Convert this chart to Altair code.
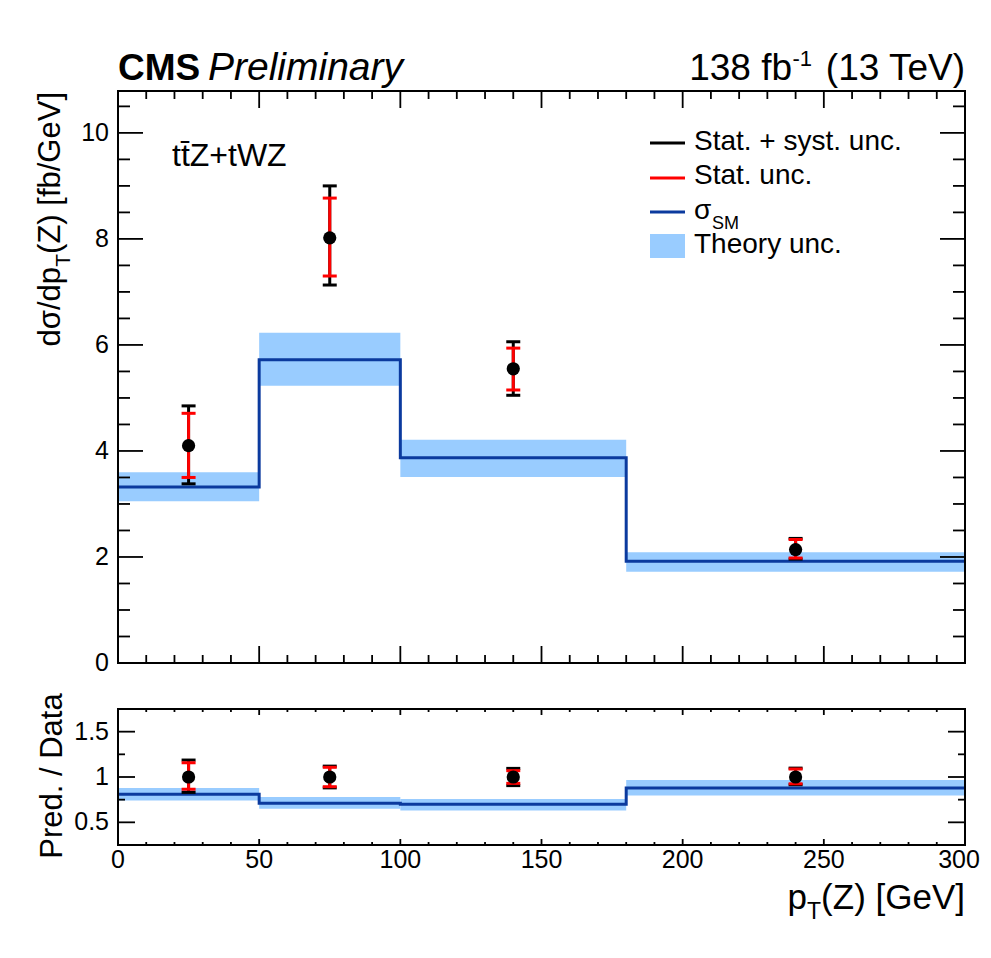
import altair as alt
import pandas as pd

# ---------------- data ----------------
BIN_LO = [0, 50, 100, 180]
BIN_HI = [50, 100, 180, 300]
BIN_CENTER = [25, 75, 140, 240]

DATA = [4.10, 8.02, 5.55, 2.14]
TOT_UP = [4.85, 9.00, 6.06, 2.35]
TOT_DN = [3.38, 7.13, 5.05, 1.96]
STAT_UP = [4.71, 8.77, 5.94, 2.33]
STAT_DN = [3.50, 7.30, 5.15, 1.98]
SM = [3.32, 5.72, 3.87, 1.92]
SM_UP = [3.60, 6.23, 4.21, 2.09]
SM_DN = [3.05, 5.23, 3.51, 1.72]

R_DATA = [1.0, 1.0, 1.0, 1.0]
R_TOT_UP = [1.187, 1.12, 1.095, 1.098]
R_TOT_DN = [0.83, 0.88, 0.905, 0.915]
R_STAT_UP = [1.157, 1.107, 1.07, 1.088]
R_STAT_DN = [0.865, 0.893, 0.93, 0.925]
R_SM = [0.81, 0.71, 0.70, 0.88]
R_SM_UP = [0.88, 0.78, 0.758, 0.967]
R_SM_DN = [0.74, 0.65, 0.63, 0.795]

X_MAJOR = [0, 50, 100, 150, 200, 250, 300]
X_MAJOR_LABELS = ["0", "50", "100", "150", "200", "250", "300"]
X_MINOR = [10, 20, 30, 40, 60, 70, 80, 90, 110, 120, 130, 140, 160, 170, 180, 190,
           210, 220, 230, 240, 260, 270, 280, 290]
Y_MAJOR = [0, 2, 4, 6, 8, 10]
Y_MAJOR_LABELS = ["0", "2", "4", "6", "8", "10"]
Y_MINOR = [0.5, 1, 1.5, 2.5, 3, 3.5, 4.5, 5, 5.5, 6.5, 7, 7.5, 8.5, 9, 9.5, 10.5]
R_MAJOR = [0.5, 1.0, 1.5]
R_MAJOR_LABELS = ["0.5", "1", "1.5"]
R_MINOR = [0.75, 1.25]

X_DOMAIN = [0, 300]
Y_DOMAIN = [0, 10.79]
R_DOMAIN = [0.25, 1.75]

LEGEND_LABELS = ["Stat. + syst. unc.", "Stat. unc.", "\u03c3", "SM", "Theory unc."]
PROCESS_LABEL = "tt\u0304Z+tWZ"

# ---------------- layout / style ----------------
W, H = 847, 754
MH = 572            # main panel height
RTOP = 618          # ratio panel top
FONT = "Liberation Sans"
BAND = "#99ccff"
BLUE = "#0b3a9e"
RED = "#ff0000"
LAB = 25

XS = alt.Scale(domain=X_DOMAIN, nice=False, zero=False)
YS = alt.Scale(domain=Y_DOMAIN, range=[MH, 0], nice=False, zero=False)
RS = alt.Scale(domain=R_DOMAIN, range=[H, RTOP], nice=False, zero=False)


def X(f):
    return alt.X(f"{f}:Q", scale=XS, axis=None)


def Yf(f, s):
    return alt.Y(f"{f}:Q", scale=s, axis=None)


def one(text):
    return pd.DataFrame({"t": [text]})


def txt(text, x, y, size, align="left", baseline="alphabetic", angle=0, style=None, weight=None):
    kw = dict(font=FONT, fontSize=size, align=align, baseline=baseline, color="black")
    if angle:
        kw["angle"] = angle
    if style:
        kw["fontStyle"] = style
    if weight:
        kw["fontWeight"] = weight
    return alt.Chart(one(text)).mark_text(**kw).encode(
        x=alt.value(x), y=alt.value(y), text="t:N")


def panel(lo, hi, c, v, tu, td, su, sd, sm, smu, smd, s, xmaj_len, xmin_len,
          ymaj, ymin, ymaj_labels, top_px, bot_px, ydomain, ylen_maj, ylen_min):
    bins = pd.DataFrame({"lo": lo, "hi": hi, "up": smu, "dn": smd})
    step = pd.DataFrame({"x": lo + [hi[-1]], "y": sm + [sm[-1]]})
    err = pd.DataFrame({"x": c, "v": v, "tu": tu, "td": td, "su": su, "sd": sd})
    layers = []
    layers.append(alt.Chart(bins).mark_rect(color=BAND, opacity=1).encode(
        x=X("lo"), x2="hi", y=Yf("dn", s), y2="up"))
    layers.append(alt.Chart(step).mark_line(interpolate="step-after", color=BLUE,
                                            strokeWidth=3).encode(x=X("x"), y=Yf("y", s)))
    # ticks along x (bottom and top)
    for vals, ln in ((X_MAJOR, xmaj_len), (X_MINOR, xmin_len)):
        df = pd.DataFrame({"v": vals})
        layers.append(alt.Chart(df).mark_rule(color="black", strokeWidth=1.8).encode(
            x=X("v"), y=alt.value(bot_px), y2=alt.value(bot_px - ln)))
        layers.append(alt.Chart(df).mark_rule(color="black", strokeWidth=1.8).encode(
            x=X("v"), y=alt.value(top_px), y2=alt.value(top_px + ln)))
    # ticks along y (left and right)
    for vals, ln in ((ymaj, ylen_maj), (ymin, ylen_min)):
        df = pd.DataFrame({"v": vals})
        layers.append(alt.Chart(df).mark_rule(color="black", strokeWidth=1.8).encode(
            y=Yf("v", s), x=alt.value(0), x2=alt.value(ln)))
        layers.append(alt.Chart(df).mark_rule(color="black", strokeWidth=1.8).encode(
            y=Yf("v", s), x=alt.value(W), x2=alt.value(W - ln)))
    # frame
    fr = pd.DataFrame({"x0": [X_DOMAIN[0]], "x1": [X_DOMAIN[1]],
                       "y0": [ydomain[0]], "y1": [ydomain[1]]})
    layers.append(alt.Chart(fr).mark_rect(fillOpacity=0, stroke="black", strokeWidth=2).encode(
        x=X("x0"), x2="x1", y=Yf("y0", s), y2="y1"))
    # y tick labels
    lab = pd.DataFrame({"v": ymaj, "lab": ymaj_labels})
    layers.append(alt.Chart(lab).mark_text(font=FONT, fontSize=LAB, align="right",
                                           baseline="middle", color="black").encode(
        y=Yf("v", s), x=alt.value(-9), text="lab:N"))
    # error bars and points
    layers.append(alt.Chart(err).mark_rule(color="black", strokeWidth=3).encode(
        x=X("x"), y=Yf("td", s), y2="tu"))
    for f in ("tu", "td"):
        layers.append(alt.Chart(err).mark_tick(orient="horizontal", size=14, thickness=3,
                                               color="black", opacity=1).encode(
            x=X("x"), y=Yf(f, s)))
    layers.append(alt.Chart(err).mark_rule(color=RED, strokeWidth=3).encode(
        x=X("x"), y=Yf("sd", s), y2="su"))
    for f in ("su", "sd"):
        layers.append(alt.Chart(err).mark_tick(orient="horizontal", size=14, thickness=3,
                                               color=RED, opacity=1).encode(
            x=X("x"), y=Yf(f, s)))
    layers.append(alt.Chart(err).mark_circle(size=175, color="black", opacity=1).encode(
        x=X("x"), y=Yf("v", s)))
    return layers


main_layers = panel(BIN_LO, BIN_HI, BIN_CENTER, DATA, TOT_UP, TOT_DN, STAT_UP, STAT_DN,
                    SM, SM_UP, SM_DN, YS, 17, 8, Y_MAJOR, Y_MINOR, Y_MAJOR_LABELS,
                    0, MH, Y_DOMAIN, 25, 12)
ratio_layers = panel(BIN_LO, BIN_HI, BIN_CENTER, R_DATA, R_TOT_UP, R_TOT_DN, R_STAT_UP,
                     R_STAT_DN, R_SM, R_SM_UP, R_SM_DN, RS, 6, 3, R_MAJOR, R_MINOR,
                     R_MAJOR_LABELS, RTOP, H, R_DOMAIN, 17, 7)

# x tick labels below ratio panel (last one nudged so it stays on the canvas)
xl = pd.DataFrame({"v": X_MAJOR[:-1], "lab": X_MAJOR_LABELS[:-1]})
main_layers.append(alt.Chart(xl).mark_text(font=FONT, fontSize=LAB, align="center",
                                           baseline="middle", color="black").encode(
    x=X("v"), y=alt.value(769), text="lab:N"))
xl_last = pd.DataFrame({"v": X_MAJOR[-1:], "lab": X_MAJOR_LABELS[-1:]})
main_layers.append(alt.Chart(xl_last).mark_text(font=FONT, fontSize=LAB, align="center",
                                                baseline="middle", color="black",
                                                dx=-6).encode(
    x=X("v"), y=alt.value(769), text="lab:N"))

# header
main_layers += [
    txt("CMS", 0, -11, 37, weight="bold"),
    txt("Preliminary", 90, -11, 39, style="italic"),
    txt("(13 TeV)", W, -11, 37, align="right"),
    txt("-1", 694, -25, 22, align="right"),
    txt("138 fb", 674, -11, 37, align="right"),
]

# axis titles
main_layers += [
    txt("(Z) [GeV]", W, 818, 35, align="right"),
    txt("T", 703, 828, 23, align="right"),
    txt("p", 689, 818, 35, align="right"),
    txt("(Z) [fb/GeV]", -58, 1, 31, align="right", angle=270),
    txt("T", -48, 163, 21, align="right", angle=270),
    txt("d\u03c3/dp", -58, 176, 31, align="right", angle=270),
    txt("Pred. / Data", -56, 685, 31, align="center", angle=270),
]

# process label
main_layers.append(txt(PROCESS_LABEL, 54, 75, 32))

# legend
LX0, LX1, TX = 532, 567, 576
for ypx, col in ((52, "black"), (87, RED), (121, BLUE)):
    main_layers.append(alt.Chart(one("l")).mark_rule(color=col, strokeWidth=3).encode(
        x=alt.value(LX0), x2=alt.value(LX1), y=alt.value(ypx)))
main_layers.append(alt.Chart(one("b")).mark_rect(color=BAND, opacity=1).encode(
    x=alt.value(LX0), x2=alt.value(LX1), y=alt.value(143), y2=alt.value(167)))
main_layers += [
    txt(LEGEND_LABELS[0], TX, 59, 28),
    txt(LEGEND_LABELS[1], TX, 93, 28),
    txt(LEGEND_LABELS[2], TX, 128, 28),
    txt(LEGEND_LABELS[3], TX + 18, 138, 18),
    txt(LEGEND_LABELS[4], TX, 162, 28),
]

chart = alt.layer(alt.layer(*main_layers), alt.layer(*ratio_layers)).resolve_scale(
    y="independent"
).properties(
    width=W, height=H,
    autosize=alt.AutoSizeParams(type="none"),
    padding={"left": 110, "top": 83, "right": 18, "bottom": 105},
).configure_view(stroke=None)

chart.save("out.html", embed_options={"renderer": "svg", "actions": False})
